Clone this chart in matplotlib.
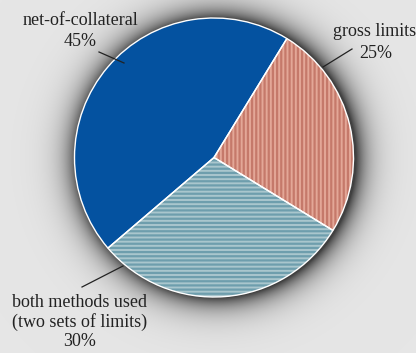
import numpy as np
import matplotlib
matplotlib.use("Agg")
import matplotlib.pyplot as plt

# slice data
labels = ["net-of-collateral\n45%", "both methods used\n(two sets of limits)\n30%", "gross limits\n25%"]
shares = [45, 30, 25]
face_colors = ["#0452a0", "#a9c6cd", "#e3a797"]
hatch_colors = ["#0452a0", "#6e9ead", "#c5796a"]
hatches = [None, "----", "||||"]

W, H = 416, 353
cx, cy, r = 214, 353 - 157.5, 139.5

plt.rcParams["hatch.linewidth"] = 1.6

fig = plt.figure(figsize=(W / 100, H / 100), dpi=100)
fig.patch.set_facecolor("#e6e6e6")
ax = fig.add_axes([0, 0, 1, 1])
ax.set_xlim(0, W)
ax.set_ylim(0, H)
ax.set_aspect("equal")
ax.axis("off")

# soft shadow round the pie
yy, xx = np.mgrid[0:H, 0:W]
d = np.hypot(xx - (cx + 2), (H - 1 - yy) - (cy - 1)) - r
shade = np.where(d > -5, 0.72 * np.exp(-np.clip(d, 0, None) / 13.0), 0.0)
bg = np.array([0.902, 0.902, 0.902])
img = bg[None, None, :] * (1 - shade[..., None])
ax.imshow(img, extent=(0, W, 0, H), origin="upper", zorder=0)

wedges, _ = ax.pie(shares, colors=face_colors, startangle=58.5, counterclock=True,
                   center=(cx, cy), radius=r, frame=True,
                   wedgeprops=dict(linewidth=0))
for w, hc, h in zip(wedges, hatch_colors, hatches):
    w.set_zorder(2)
    if h:
        w.set_hatch(h)
        w.set_edgecolor(hc)
        w.set_linewidth(0)

outline, _ = ax.pie(shares, startangle=58.5, counterclock=True,
                    center=(cx, cy), radius=r, frame=True,
                    wedgeprops=dict(fill=False, edgecolor="white", linewidth=1.0))
for w in outline:
    w.set_zorder(3)
ax.set_xlim(0, W)
ax.set_ylim(0, H)
ax.axis("off")

font = dict(family="Liberation Serif", fontsize=13, color="#222222")
# label placement (pixel coords from top) and leader lines
ax.text(80, H - 31, labels[0], ha="center", va="center", linespacing=1.3, **font)
ax.plot([99, 124], [H - 52, H - 63], color="#222222", lw=0.9, zorder=4)

ax.text(80, H - 322, labels[1], ha="center", va="center", linespacing=1.15, **font)
ax.plot([82, 123], [H - 287, H - 266], color="#222222", lw=0.9, zorder=4)

ax.text(416, H - 32, labels[2].split("\n")[0], ha="right", va="center", **font)
ax.text(376, H - 53, labels[2].split("\n")[1], ha="center", va="center", **font)
ax.plot([352, 323], [H - 49, H - 67], color="#222222", lw=0.9, zorder=4)

fig.savefig("out.png", dpi=100, facecolor=fig.get_facecolor())
